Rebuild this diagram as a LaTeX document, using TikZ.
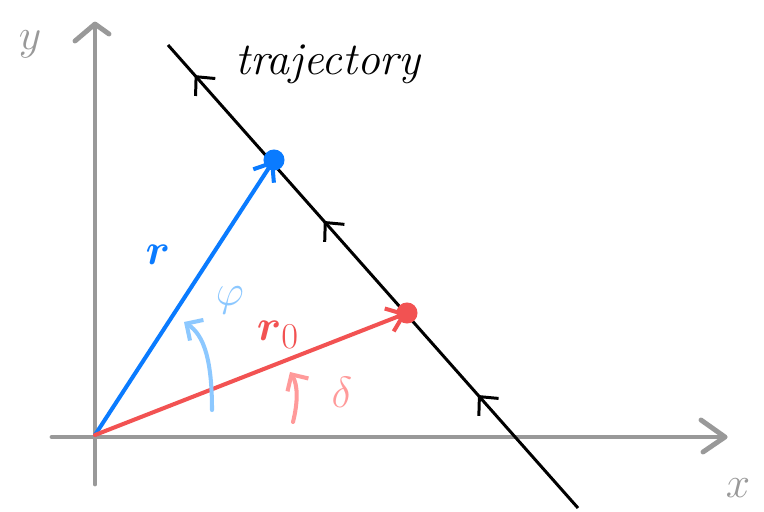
\documentclass[tikz,border=0pt]{standalone}
\usepackage{amsmath}
\usetikzlibrary{arrows.meta,decorations.markings,calc}
\definecolor{axisgray}{HTML}{999999}
\definecolor{vblue}{HTML}{0A7BFF}
\definecolor{vred}{HTML}{F25252}
\definecolor{lblue}{HTML}{8CC8FF}
\definecolor{lpink}{HTML}{FF9A9A}
\tikzset{
  axisline/.style={draw=axisgray, line width=2.8pt, line cap=round, line join=round},
  trajline/.style={draw=black, line width=1.7pt},
  vecline/.style={line width=2.3pt, line cap=round, -{Straight Barb[length=9pt,width=14pt,line width=2.3pt]}},
  arcline/.style={line width=2.3pt, line cap=round, -{Straight Barb[length=7pt,width=14pt,line width=2.3pt]}},
  enddot/.style={circle, inner sep=0pt, minimum size=12pt},
  lab/.style={inner sep=0pt, font=\fontsize{28}{32}\selectfont}
}
\begin{document}
\begin{tikzpicture}[x=0.02cm, y=-0.02cm]
\useasboundingbox[fill=white] (0,0) rectangle (764,511);
% coordinates
\coordinate (O) at (95,435);
\coordinate (ybot) at (95,484);
\coordinate (ytop) at (95,24);
\coordinate (xleft) at (52,437);
\coordinate (xright) at (725,437);
\coordinate (T1) at (168,45);
\coordinate (T2) at (578,508);
% axes
\draw[axisline] (ybot) -- (ytop);
\draw[axisline] ($(ytop)+(-20,17)$) -- (ytop) -- ++(14,10);
\draw[axisline] (xleft) -- (xright);
\draw[axisline] ($(xright)+(-24,-17)$) -- (xright) -- ++(-22,15);
\node[lab, text=axisgray] (ylab) at (30,44) {$y$};
\node[lab, text=axisgray] (xlab) at (738,488) {$x$};
% trajectory
\draw[trajline, postaction={decorate, decoration={markings,
   mark=at position 0.065 with {\arrowreversed[line width=1.7pt]{Straight Barb[length=8pt,width=15pt]}},
   mark=at position 0.38 with {\arrowreversed[line width=1.7pt]{Straight Barb[length=8pt,width=15pt]}},
   mark=at position 0.756 with {\arrowreversed[line width=1.7pt]{Straight Barb[length=8pt,width=15pt]}}}}]
   (T1) -- (T2);
\node[inner sep=0pt, font=\fontsize{26}{30}\selectfont\itshape] (traj) at (328,64) {trajectory};
% vectors
\node[enddot, fill=vblue] (B) at (274,160) {};
\node[enddot, fill=vred] (R) at (407,313) {};
\draw[vecline, draw=vblue] (O) -- (B.center);
\draw[vecline, draw=vred] (O) -- (R.center);
\node[lab, text=vblue] (rlab) at (158,255) {$\boldsymbol{r}$};
\node[lab, text=vred] (r0lab) at (278,335) {$\boldsymbol{r}_{0}$};
% angles
\coordinate (phiA) at (212,410);
\coordinate (phiB) at (184,322);
\draw[arcline, draw=lblue] (phiA) .. controls (212,360) and (204,335) .. (phiB);
\node[lab, text=lblue] (philab) at (230,300) {$\varphi$};
\coordinate (delA) at (293,422);
\coordinate (delB) at (290,372);
\draw[arcline, draw=lpink] (delA) .. controls (298,402) and (298,385) .. (delB);
\node[lab, text=lpink] (dellab) at (342,392) {$\delta$};
\end{tikzpicture}
\end{document}
